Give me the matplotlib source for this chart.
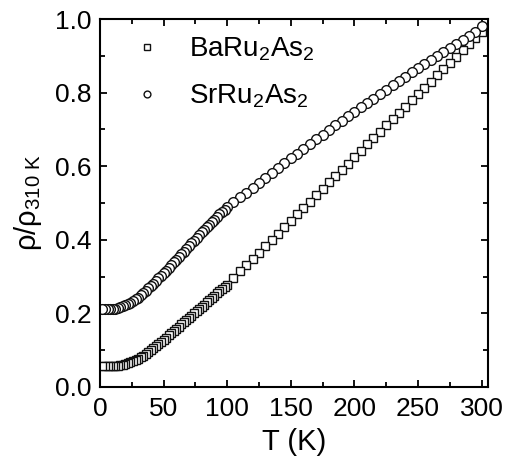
import matplotlib
matplotlib.use('Agg')
import matplotlib.pyplot as plt
from matplotlib.ticker import MultipleLocator, FormatStrFormatter

plt.rcParams['font.family'] = ['Liberation Sans', 'DejaVu Sans']
plt.rcParams['mathtext.fontset'] = 'custom'
plt.rcParams['mathtext.rm'] = 'Liberation Sans'
plt.rcParams['mathtext.it'] = 'Liberation Sans:italic'

# temperatures (K)
T_low = [2, 4, 6, 8, 10, 12, 14, 16, 18, 20, 22, 24, 26, 28, 30, 32, 34, 36, 38, 40,
         42, 44, 46, 48, 50, 52, 54, 56, 58, 60, 62, 64, 66, 68, 70, 72, 74, 76, 78, 80,
         82, 84, 86, 88, 90, 92, 94, 96, 98, 100]
T_high = [105, 110, 115, 120, 125, 130, 135, 140, 145, 150, 155, 160, 165, 170, 175,
          180, 185, 190, 195, 200, 205, 210, 215, 220, 225, 230, 235, 240, 245, 250,
          255, 260, 265, 270, 275, 280, 285, 290, 295, 300]

# BaRu2As2, rho / rho(310 K)
ba_low = [0.057, 0.057, 0.057, 0.057, 0.057, 0.058, 0.058, 0.059, 0.060, 0.062,
          0.064, 0.067, 0.070, 0.073, 0.077, 0.081, 0.085, 0.090, 0.095, 0.100,
          0.105, 0.110, 0.116, 0.122, 0.128, 0.134, 0.140, 0.146, 0.152, 0.158,
          0.164, 0.170, 0.176, 0.182, 0.188, 0.194, 0.200, 0.206, 0.212, 0.218,
          0.224, 0.230, 0.236, 0.242, 0.248, 0.254, 0.260, 0.266, 0.272, 0.278]
ba_high = [0.297, 0.314, 0.331, 0.348, 0.365, 0.383, 0.400, 0.417, 0.435, 0.452,
           0.469, 0.487, 0.504, 0.521, 0.538, 0.556, 0.573, 0.590, 0.607, 0.625,
           0.642, 0.659, 0.676, 0.694, 0.711, 0.728, 0.745, 0.762, 0.779, 0.796,
           0.813, 0.830, 0.847, 0.864, 0.881, 0.898, 0.915, 0.932, 0.949, 0.966]

# SrRu2As2, rho / rho(310 K)
sr_low = [0.212, 0.212, 0.212, 0.212, 0.212, 0.213, 0.215, 0.217, 0.220, 0.222,
          0.225, 0.229, 0.233, 0.238, 0.243, 0.249, 0.255, 0.261, 0.268, 0.275,
          0.281, 0.288, 0.295, 0.302, 0.309, 0.316, 0.324, 0.331, 0.339, 0.346,
          0.353, 0.361, 0.368, 0.376, 0.383, 0.390, 0.398, 0.405, 0.412, 0.420,
          0.427, 0.434, 0.441, 0.448, 0.455, 0.462, 0.469, 0.476, 0.482, 0.488]
sr_high = [0.502, 0.515, 0.528, 0.542, 0.555, 0.568, 0.581, 0.595, 0.608, 0.621,
           0.634, 0.647, 0.660, 0.673, 0.686, 0.699, 0.711, 0.724, 0.736, 0.748,
           0.760, 0.772, 0.784, 0.796, 0.808, 0.820, 0.832, 0.843, 0.855, 0.866,
           0.878, 0.889, 0.900, 0.911, 0.922, 0.933, 0.944, 0.955, 0.966, 0.982]

T = T_low + T_high
ba = ba_low + ba_high
sr = sr_low + sr_high

fig = plt.figure(figsize=(5.07, 4.59), dpi=100)
ax = fig.add_axes([0.197, 0.157, 0.7655, 0.8015])

# measured on cooling: draw high T first so low-T markers sit on top
ax.plot(T[::-1], ba[::-1], ls='none', marker='s', ms=6.0, mfc='white', mec='#111111',
        mew=1.0, label='BaRu$_2$As$_2$')
ax.plot(T[::-1], sr[::-1], ls='none', marker='o', ms=7.0, mfc='white', mec='#111111',
        mew=1.0, label='SrRu$_2$As$_2$')

ax.set_xlim(0, 305)
ax.set_ylim(0, 1.0)
ax.xaxis.set_major_locator(MultipleLocator(50))
ax.xaxis.set_minor_locator(MultipleLocator(25))
ax.yaxis.set_major_locator(MultipleLocator(0.2))
ax.yaxis.set_minor_locator(MultipleLocator(0.1))
ax.yaxis.set_major_formatter(FormatStrFormatter('%.1f'))
ax.tick_params(which='both', direction='in', top=True, right=True, labelsize=19, width=1.3)
ax.tick_params(axis='x', which='major', length=5, pad=7)
ax.tick_params(axis='y', which='major', length=5, pad=6)
ax.tick_params(which='minor', length=3.3)
for s in ax.spines.values():
    s.set_linewidth(1.5)

ax.set_xlabel('T (K)', fontsize=21, labelpad=5)
ax.set_ylabel('ρ/ρ$_\\mathregular{310\\ K}$', fontsize=21, labelpad=8)

ax.legend(loc='upper left', bbox_to_anchor=(0.022, 1.022), frameon=False, fontsize=20,
          markerscale=0.7, handlelength=1.0, handletextpad=1.0, labelspacing=0.7)

plt.savefig('out.png', dpi=100)
